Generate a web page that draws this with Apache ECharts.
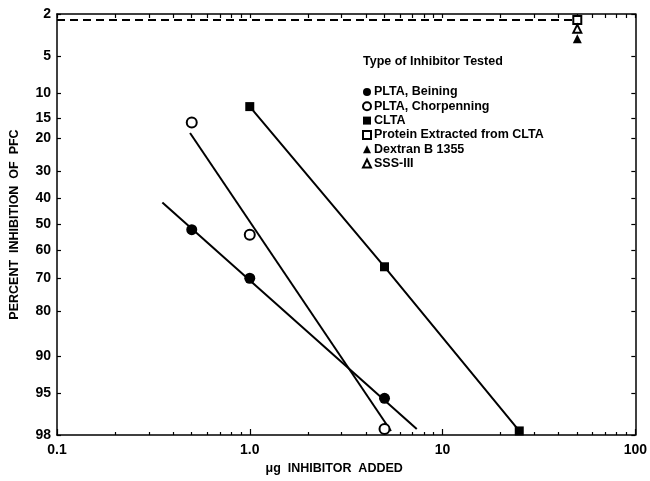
<!DOCTYPE html>
<html>
<head>
<meta charset="utf-8">
<script src="https://cdn.jsdelivr.net/npm/echarts@6/dist/echarts.min.js"></script>
<style>
html,body{margin:0;padding:0;background:#fff;}
#chart{width:650px;height:481px;}
</style>
</head>
<body>
<div id="chart"></div>
<script>
// ---- data ----
const yTickLabels = [2, 5, 10, 15, 20, 30, 40, 50, 60, 70, 80, 90, 95, 98];
const xTickLabels = [0.1, 1, 10, 100];
const xTickTexts = ['0.1', '1.0', '10', '100'];
const xMinorTicks = [0.2,0.3,0.4,0.5,0.6,0.7,0.8,0.9,2,3,4,5,6,7,8,9,20,30,40,50,60,70,80,90];

const beiningX = [0.5, 1, 5];
const beiningY = [52, 70, 95.5];
const chorpX = [0.5, 1, 5];
const chorpY = [16, 54, 97.7];
const cltaX = [1, 5, 25];
const cltaY = [12.5, 66, 97.8];
const proteinX = [50];
const proteinY = [2.3];
const sssX = [50];
const sssY = [2.8];
const dextranX = [50];
const dextranY = [3.5];

const beiningFitX = [0.352, 7.35];
const beiningFitY = [41.5, 97.7];
const chorpFitX = [0.49, 5.4];
const chorpFitY = [18.6, 97.8];
const dashX = [0.1, 50];
const dashY = [2.3, 2.3];

// ---- probability (probit) transform ----
function probit(p) {
  const a=[-3.969683028665376e+01,2.209460984245205e+02,-2.759285104469687e+02,1.383577518672690e+02,-3.066479806614716e+01,2.506628277459239e+00];
  const b=[-5.447609879822406e+01,1.615858368580409e+02,-1.556989798598866e+02,6.680131188771972e+01,-1.328068155288572e+01];
  const c=[-7.784894002430293e-03,-3.223964580411365e-01,-2.400758277161838e+00,-2.549732539343734e+00,4.374664141464968e+00,2.938163982698783e+00];
  const d=[7.784695709041462e-03,3.224671290700398e-01,2.445134137142996e+00,3.754408661907416e+00];
  const pl=0.02425, ph=1-pl;
  if (p<pl){const q=Math.sqrt(-2*Math.log(p)); return (((((c[0]*q+c[1])*q+c[2])*q+c[3])*q+c[4])*q+c[5])/((((d[0]*q+d[1])*q+d[2])*q+d[3])*q+1);}
  if (p<=ph){const q=p-0.5, r=q*q; return (((((a[0]*r+a[1])*r+a[2])*r+a[3])*r+a[4])*r+a[5])*q/(((((b[0]*r+b[1])*r+b[2])*r+b[3])*r+b[4])*r+1);}
  const q=Math.sqrt(-2*Math.log(1-p)); return -(((((c[0]*q+c[1])*q+c[2])*q+c[3])*q+c[4])*q+c[5])/((((d[0]*q+d[1])*q+d[2])*q+d[3])*q+1);
}
const z = v => probit(v / 100);
const pts = (xs, ys) => xs.map((x, i) => [x, z(ys[i])]);

const yTickZ = yTickLabels.map(z);
const yMin = z(yTickLabels[0]);
const yMax = z(yTickLabels[yTickLabels.length - 1]);

function nearestIndex(arr, v, useLog) {
  let best = 0, bd = Infinity;
  arr.forEach((a, i) => {
    const dd = useLog ? Math.abs(Math.log10(a) - Math.log10(v)) : Math.abs(a - v);
    if (dd < bd) { bd = dd; best = i; }
  });
  return best;
}

const FONT = '"Liberation Sans", Arial, Helvetica, sans-serif';
const BLACK = '#000';

const chart = echarts.init(document.getElementById('chart'), null, {renderer: 'canvas'});

const baseX = {type: 'log', logBase: 10, min: 0.1, max: 100, splitLine: {show: false}, minorTick: {show: false}, minorSplitLine: {show: false}};
const baseY = {type: 'value', min: yMin, max: yMax, inverse: true, splitLine: {show: false}};
const lineOn = {show: true, onZero: false, lineStyle: {color: BLACK, width: 1.5}};

const option = {
  backgroundColor: '#fff',
  animation: false,
  title: {
    text: 'Type of Inhibitor Tested',
    left: 363, top: 55, padding: 0,
    textStyle: {fontFamily: FONT, fontWeight: 'bold', fontSize: 12.5, color: BLACK}
  },
  legend: {
    orient: 'vertical', left: 362, top: 85, padding: 0,
    itemWidth: 8, itemHeight: 8, itemGap: 0.3,
    textStyle: {fontFamily: FONT, fontWeight: 'bold', fontSize: 12.5, color: BLACK, lineHeight: 14, padding: [0,0,0,-2]},
    data: [
      {name: 'PLTA, Beining', icon: 'circle'},
      {name: 'PLTA, Chorpenning', icon: 'emptyCircle'},
      {name: 'CLTA', icon: 'rect'},
      {name: 'Protein Extracted from CLTA', icon: 'emptyRect'},
      {name: 'Dextran B 1355', icon: 'triangle'},
      {name: 'SSS-III', icon: 'emptyTriangle'}
    ]
  },
  grid: {left: 56, right: 12, top: 14, bottom: 46, containLabel: false},
  xAxis: [
    Object.assign({}, baseX, {
      position: 'bottom',
      name: 'μg  INHIBITOR  ADDED', nameLocation: 'middle', nameGap: 26,
      nameTextStyle: {fontFamily: FONT, fontWeight: 'bold', fontSize: 12.5, color: BLACK, padding: [0, 24, 0, 0]},
      axisLine: lineOn,
      axisTick: {show: true, inside: true, length: 6, customValues: xTickLabels, lineStyle: {color: BLACK, width: 1.2}},
      axisLabel: {show: true, customValues: xTickLabels, margin: 8, fontFamily: FONT, fontWeight: 'bold', fontSize: 14, color: BLACK,
        formatter: v => xTickTexts[nearestIndex(xTickLabels, v, true)]}
    }),
    Object.assign({}, baseX, {
      position: 'bottom',
      axisLine: {show: false, onZero: false},
      axisTick: {show: true, inside: true, length: 3, customValues: xMinorTicks, lineStyle: {color: BLACK, width: 1.2}},
      axisLabel: {show: false}
    }),
    Object.assign({}, baseX, {
      position: 'top',
      axisLine: lineOn,
      axisTick: {show: true, inside: true, length: 4, customValues: xMinorTicks.concat(xTickLabels), lineStyle: {color: BLACK, width: 1.2}},
      axisLabel: {show: false}
    })
  ],
  yAxis: [
    Object.assign({}, baseY, {
      position: 'left',
      name: 'PERCENT  INHIBITION  OF  PFC', nameLocation: 'middle', nameGap: 36, nameRotate: 90,
      nameTextStyle: {fontFamily: FONT, fontWeight: 'bold', fontSize: 12.5, color: BLACK},
      axisLine: lineOn,
      axisTick: {show: true, inside: true, length: 4, customValues: yTickZ, lineStyle: {color: BLACK, width: 1.2}},
      axisLabel: {show: true, customValues: yTickZ, margin: 6, fontFamily: FONT, fontWeight: 'bold', fontSize: 14, color: BLACK,
        formatter: v => String(yTickLabels[nearestIndex(yTickZ, v, false)])}
    }),
    Object.assign({}, baseY, {
      position: 'right',
      axisLine: lineOn,
      axisTick: {show: true, inside: true, length: 4, customValues: yTickZ, lineStyle: {color: BLACK, width: 1.2}},
      axisLabel: {show: false}
    })
  ],
  series: [
    {
      name: 'dash', type: 'line', data: pts(dashX, dashY), showSymbol: false, symbol: 'none',
      lineStyle: {color: BLACK, width: 1.8, type: [8, 5]}, silent: true, z: 1
    },
    {
      name: 'Beining fit', type: 'line', data: pts(beiningFitX, beiningFitY), symbol: 'none',
      lineStyle: {color: BLACK, width: 2}, silent: true, z: 1
    },
    {
      name: 'Chorpenning fit', type: 'line', data: pts(chorpFitX, chorpFitY), symbol: 'none',
      lineStyle: {color: BLACK, width: 2}, silent: true, z: 1
    },
    {
      name: 'PLTA, Beining', type: 'scatter', data: pts(beiningX, beiningY),
      symbol: 'circle', symbolSize: 11, itemStyle: {color: BLACK, opacity: 1}, z: 3
    },
    {
      name: 'PLTA, Chorpenning', type: 'scatter', data: pts(chorpX, chorpY),
      symbol: 'emptyCircle', symbolSize: 10, itemStyle: {color: BLACK, borderColor: BLACK, borderWidth: 1.8, opacity: 1}, z: 3
    },
    {
      name: 'CLTA', type: 'line', data: pts(cltaX, cltaY),
      symbol: 'rect', symbolSize: 9, showAllSymbol: true, clip: false,
      lineStyle: {color: BLACK, width: 2}, itemStyle: {color: BLACK, opacity: 1}, z: 3
    },
    {
      name: 'Protein Extracted from CLTA', type: 'scatter', data: pts(proteinX, proteinY),
      symbol: 'emptyRect', symbolSize: 8, clip: false, itemStyle: {color: BLACK, borderColor: BLACK, borderWidth: 1.5, opacity: 1}, z: 3
    },
    {
      name: 'Dextran B 1355', type: 'scatter', data: pts(dextranX, dextranY),
      symbol: 'triangle', symbolSize: 9, itemStyle: {color: BLACK, opacity: 1}, z: 3
    },
    {
      name: 'SSS-III', type: 'scatter', data: pts(sssX, sssY),
      symbol: 'emptyTriangle', symbolSize: 8, itemStyle: {color: BLACK, borderColor: BLACK, borderWidth: 1.5, opacity: 1}, z: 3
    }
  ]
};
chart.setOption(option);
</script>
</body>
</html>
